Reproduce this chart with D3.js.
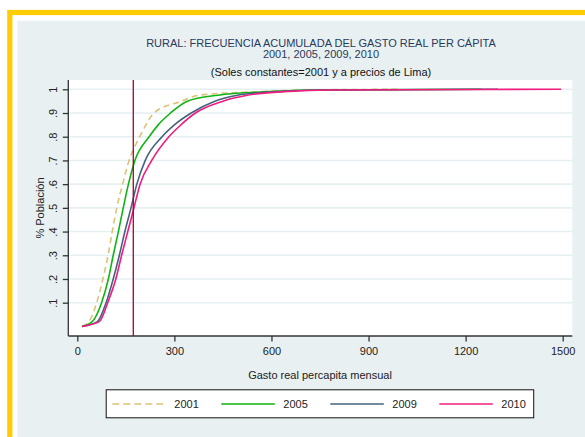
<!DOCTYPE html>
<meta charset="utf-8">
<head>
    <style>
        body { margin: 0; background: #fff; }
        text { font-family: "Liberation Sans", Arial, sans-serif; }
        .line { fill: none; stroke-width: 1.6px; }
    </style>
</head>
<body>
<script src="https://d3js.org/d3.v7.min.js"></script>
<script>
    // cumulative share of population (y) reached at each spending level
    var prob = [0, 0.02, 0.1, 0.2, 0.3, 0.4, 0.5, 0.6, 0.7, 0.8, 0.85, 0.9, 0.95, 0.975, 0.99, 0.997, 1];
    // spending (soles) at which each series reaches the levels above
    var gasto2001 = [15, 36, 60, 79, 95, 108, 122, 140, 160, 193, 212, 237, 322, 375, 560, 700, 1000];
    var gasto2005 = [15, 46, 75, 96, 111, 127, 142, 158, 178, 222, 250, 288, 340, 435, 590, 720, 1250];
    var gasto2009 = [15, 62, 89, 111, 130, 147, 166, 184, 210, 262, 300, 352, 425, 495, 615, 760, 1300];
    var gasto2010 = [15, 68, 94, 119, 137, 156, 175, 194, 230, 283, 320, 365, 450, 525, 640, 780, 1495];
    var years = ["2001", "2005", "2009", "2010"];
    var colors = ["#dcc278", "#12b312", "#46627e", "#f21b7f"];
    var xTicks = [0, 300, 600, 900, 1200, 1500];
    var yTicks = [0.1, 0.2, 0.3, 0.4, 0.5, 0.6, 0.7, 0.8, 0.9, 1];
    var refLine = 173;

    var W = 585, H = 437;
    var plot = { left: 68.3, right: 572.3, top: 80, bottom: 336 };

    var svg = d3.select("body").append("svg")
        .attr("width", W)
        .attr("height", H);

    // outer frame
    svg.append("rect")
        .attr("x", 9.8).attr("y", 12.5)
        .attr("width", W + 20).attr("height", H + 20)
        .style("fill", "#fff")
        .style("stroke", "#ffcc00")
        .style("stroke-width", 5.2);
    svg.append("rect")
        .attr("x", 17.3).attr("y", 20.7)
        .attr("width", W).attr("height", H)
        .style("fill", "#e8f0f2");

    svg.append("rect")
        .attr("x", plot.left).attr("y", plot.top)
        .attr("width", plot.right - plot.left).attr("height", plot.bottom - plot.top)
        .style("fill", "#fff");

    var x = d3.scaleLinear().domain([0, 1500]).range([77.3, 562.7]);
    var y = d3.scaleLinear().domain([0, 1]).range([326.4, 89.3]);

    // grid
    svg.append("g").selectAll("line")
        .data(yTicks)
        .enter().append("line")
        .attr("x1", plot.left).attr("x2", plot.right)
        .attr("y1", function(d) { return y(d); })
        .attr("y2", function(d) { return y(d); })
        .style("stroke", "#e6eff1")
        .style("stroke-width", 1.6);

    // titles
    var title = [
        { t: "RURAL: FRECUENCIA ACUMULADA DEL GASTO REAL PER CÁPITA", y: 46.5 },
        { t: "2001, 2005, 2009, 2010", y: 57.5 },
        { t: "(Soles constantes=2001 y a precios de Lima)", y: 75.5 }
    ];
    svg.selectAll(".title")
        .data(title)
        .enter().append("text")
        .attr("class", "title")
        .attr("x", 321)
        .attr("y", function(d) { return d.y; })
        .attr("text-anchor", "middle")
        .style("font-size", "11px")
        .style("fill", function(d, i) { return i < 2 ? "#2a3a5c" : "#111"; })
        .text(function(d) { return d.t; });

    // curves
    var series = [gasto2001, gasto2005, gasto2009, gasto2010];
    var line = d3.line()
        .x(function(d) { return x(d[0]); })
        .y(function(d) { return y(d[1]); })
        .curve(d3.curveMonotoneX);

    series.forEach(function(g, i) {
        var pts = g.map(function(v, k) { return [v, prob[k]]; });
        svg.append("path")
            .datum(pts)
            .attr("class", "line")
            .style("stroke", colors[i])
            .style("stroke-dasharray", i === 0 ? "6,4" : null)
            .attr("d", line);
    });

    // reference line
    svg.append("line")
        .attr("x1", x(refLine)).attr("x2", x(refLine))
        .attr("y1", plot.top).attr("y2", plot.bottom)
        .style("stroke", "#a3002e")
        .style("stroke-width", 1.3);

    // axes
    var yAxis = svg.append("g")
        .attr("transform", "translate(" + plot.left + ",0)")
        .call(d3.axisLeft(y).tickValues(yTicks).tickSize(5.5).tickPadding(3)
            .tickFormat(function(d) { return d === 1 ? "1" : d3.format(".1f")(d).replace("0.", "."); }));
    yAxis.select(".domain").attr("d", "M0," + plot.top + "V" + plot.bottom)
        .style("stroke", "#333").style("stroke-width", 1.3);
    yAxis.selectAll(".tick line").style("stroke", "#333").style("stroke-width", 1.3);
    yAxis.selectAll(".tick text")
        .attr("x", null).attr("dy", null)
        .attr("transform", "translate(-11,0) rotate(-90)")
        .attr("text-anchor", "middle")
        .style("font-size", "11px")
        .style("font-family", "'Liberation Sans', Arial, sans-serif")
        .style("fill", "#222");

    var xAxis = svg.append("g")
        .attr("transform", "translate(0," + plot.bottom + ")")
        .call(d3.axisBottom(x).tickValues(xTicks).tickSize(5.5).tickPadding(6).tickFormat(d3.format("d")));
    xAxis.select(".domain").attr("d", "M" + plot.left + ",0H" + plot.right)
        .style("stroke", "#333").style("stroke-width", 1.3);
    xAxis.selectAll(".tick line").style("stroke", "#333").style("stroke-width", 1.3);
    xAxis.selectAll(".tick text")
        .style("font-size", "11px")
        .style("font-family", "'Liberation Sans', Arial, sans-serif")
        .style("fill", "#222");

    svg.append("text")
        .attr("transform", "translate(43.5,208) rotate(-90)")
        .attr("text-anchor", "middle")
        .style("font-size", "11px")
        .style("fill", "#222")
        .text("% Población");

    svg.append("text")
        .attr("x", 320).attr("y", 378.5)
        .attr("text-anchor", "middle")
        .style("font-size", "11px")
        .style("fill", "#222")
        .text("Gasto real percapita mensual");

    // legend
    svg.append("rect")
        .attr("x", 106.2).attr("y", 389.8)
        .attr("width", 427.5).attr("height", 28)
        .style("fill", "#fff")
        .style("stroke", "#111")
        .style("stroke-width", 1);

    var legend = svg.selectAll(".legend")
        .data(years)
        .enter().append("g")
        .attr("class", "legend")
        .attr("transform", function(d, i) { return "translate(" + (112.3 + i * 109) + ",404)"; });
    legend.append("line")
        .attr("x1", 0).attr("x2", 53.5)
        .style("stroke", function(d, i) { return colors[i]; })
        .style("stroke-width", 1.6)
        .style("stroke-dasharray", function(d, i) { return i === 0 ? "7,4" : null; });
    legend.append("text")
        .attr("x", 62).attr("y", 4)
        .style("font-size", "11px")
        .style("fill", "#222")
        .text(function(d) { return d; });
</script>
</body>
